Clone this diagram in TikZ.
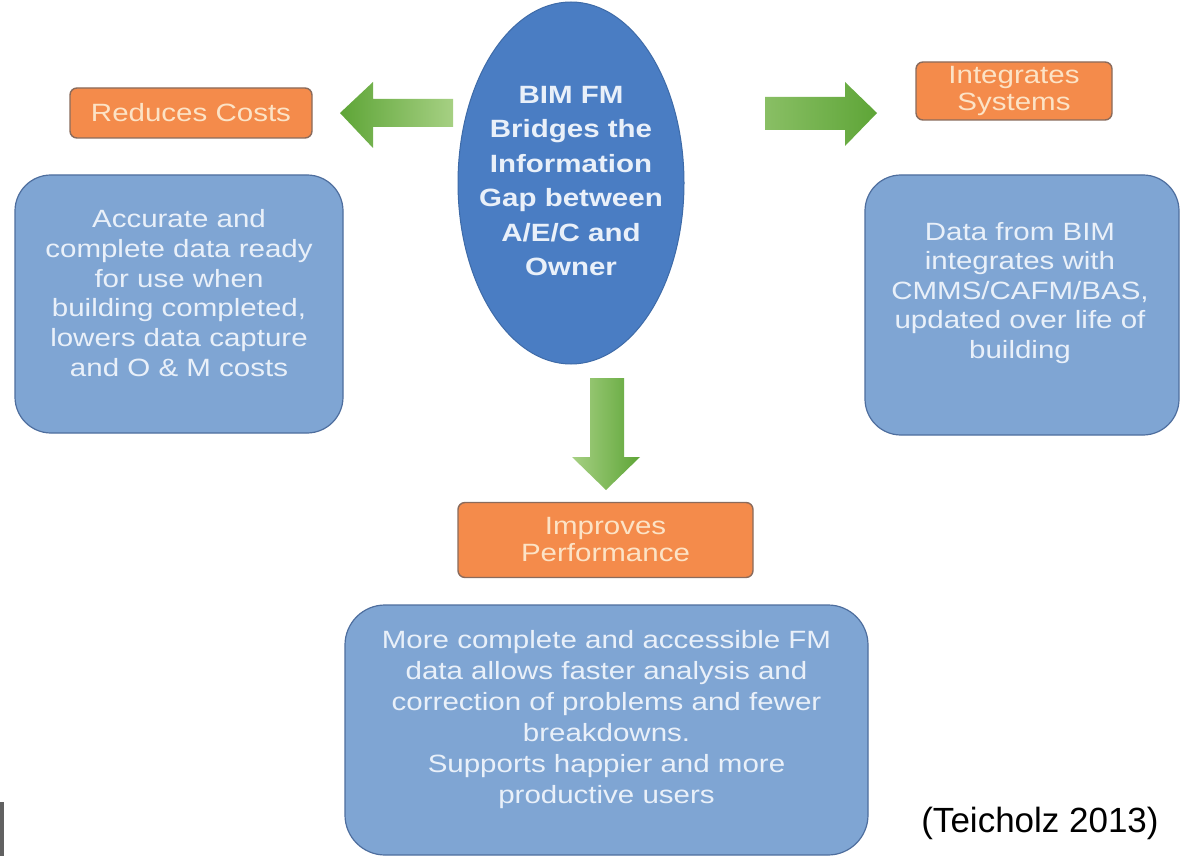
\documentclass[tikz,border=0pt]{standalone}
\usepackage{fontspec}
\setmainfont[FakeStretch=1.18]{Liberation Sans}
\newfontfamily\citefont{Liberation Sans}
\usetikzlibrary{shapes.geometric}
\definecolor{orfill}{HTML}{F48B4B}
\definecolor{ordraw}{HTML}{8A6B5C}
\definecolor{ortext}{HTML}{FCE3C6}
\definecolor{blfill}{HTML}{7FA5D3}
\definecolor{bldraw}{HTML}{4E6E9E}
\definecolor{bltext}{HTML}{E9F0F9}
\definecolor{hubfill}{HTML}{4A7DC3}
\definecolor{hubdraw}{HTML}{3E6BA8}
\definecolor{gdark}{HTML}{5EA537}
\definecolor{glight}{HTML}{A6D083}
\tikzset{
  orangebox/.style={draw=ordraw, line width=1.4pt, fill=orfill, rounded corners=7pt,
    text=ortext, align=center, inner sep=0pt, font=\fontsize{25}{27}\selectfont},
  bluebox/.style={draw=bldraw, line width=1.2pt, fill=blfill, rounded corners=36pt,
    inner sep=0pt},
  boxtext/.style={text=bltext, align=center, inner sep=0pt},
  hub/.style={ellipse, draw=hubdraw, line width=1pt, fill=hubfill, inner sep=0pt},
  hubtext/.style={text=bltext, align=center, inner sep=0pt,
    font=\bfseries\fontsize{25}{34.5}\selectfont},
  greenarrow/.style={draw=none}
}
\begin{document}
\begin{tikzpicture}[x=1pt,y=-1pt]
\useasboundingbox (0,0) rectangle (1180,866);
\fill[white] (0,0) rectangle (1180,866);

% hub
\node[hub, minimum width=226pt, minimum height=362pt] (hub) at (571,183) {};
\node[hubtext] (hublbl) at (571,181)
  {BIM FM\\Bridges the\\Information\\Gap between\\A/E/C and\\Owner};

% orange labels
\node[orangebox, minimum width=242pt, minimum height=50pt] (cost) at (191,113) {Reduces Costs};
\node[orangebox, minimum width=196pt, minimum height=58pt] (integ) at (1014,91) {Integrates\\Systems};
\node[orangebox, minimum width=295pt, minimum height=75pt] (perf) at (605.5,540) {Improves\\Performance};

% blue boxes
\node[bluebox, minimum width=328pt, minimum height=258pt] (costtxt) at (179,304) {};
\node[boxtext, font=\fontsize{25}{29.8}\selectfont] (costlbl) at (179,293)
  {Accurate and\\complete data ready\\for use when\\building completed,\\lowers data capture\\and O \& M costs};
\node[bluebox, minimum width=314pt, minimum height=260pt] (integtxt) at (1022,305) {};
\node[boxtext, font=\fontsize{25}{29.5}\selectfont] (integlbl) at (1020,293)
  {Data from BIM\\integrates with\\CMMS/CAFM/BAS,\\updated over life of\\building};
\node[bluebox, rounded corners=40pt, minimum width=523pt, minimum height=250pt] (perftxt) at (606.5,730) {};
\node[boxtext, font=\fontsize{25}{31}\selectfont] (perflbl) at (606.5,720)
  {More complete and accessible FM\\data allows faster analysis and\\correction of problems and fewer\\breakdowns.\\Supports happier and more\\productive users};

% green block arrows
\shade[left color=gdark, right color=glight, greenarrow]
  (340,113) -- (373,82) -- (373,99) -- (453,99) -- (453,127) -- (373,127) -- (373,148) -- cycle;
\shade[left color=glight!60!gdark, right color=gdark, greenarrow]
  (765,97) -- (845,97) -- (845,82) -- (877,113) -- (845,146) -- (845,130) -- (765,130) -- cycle;
\shade[left color=glight, right color=gdark, greenarrow]
  (590,378) -- (624,378) -- (624,457) -- (640,457) -- (606,490) -- (572,457) -- (590,457) -- cycle;

% citation and edge bar
\node[font=\citefont\fontsize{35}{40}\selectfont, text=black, inner sep=0pt] (cite) at (1040,823) {(Teicholz 2013)};
\fill[black!62] (0,802) rectangle (4,856);
\end{tikzpicture}
\end{document}
